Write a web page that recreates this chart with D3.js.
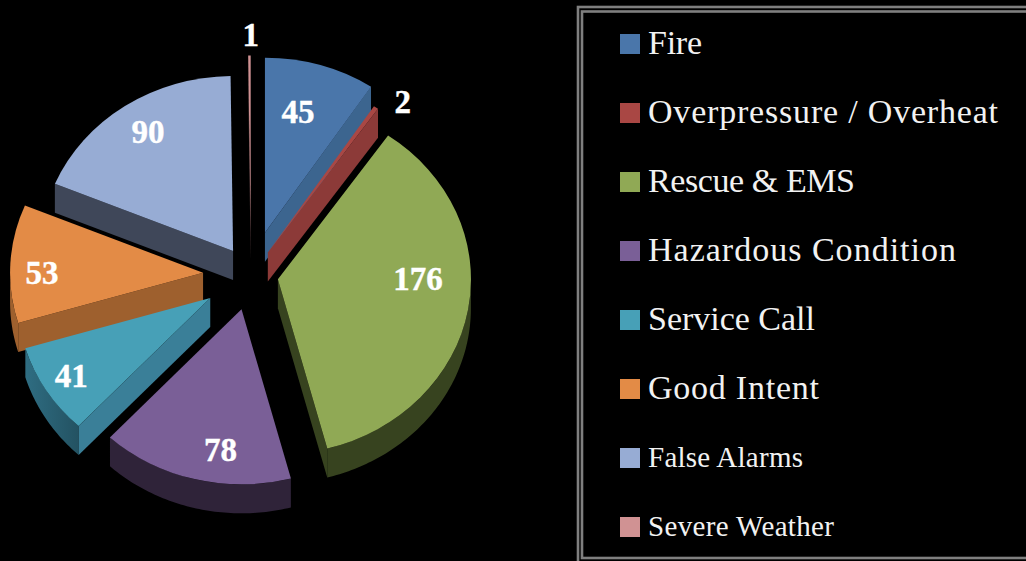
<!DOCTYPE html>
<html><head><meta charset="utf-8">
<script src="https://cdn.jsdelivr.net/npm/d3@7/dist/d3.min.js"></script>
<style>html,body{margin:0;padding:0;background:#000;overflow:hidden}svg{display:block}</style>
</head><body><svg id="c" width="1026" height="561"></svg>
<script>
const categories = ["Fire","Overpressure / Overheat","Rescue & EMS","Hazardous Condition","Service Call","Good Intent","False Alarms","Severe Weather"];
const values = [45,2,176,78,41,53,90,1];
const explosion = [48.6,30,27.3,39,48,48,32,49];
const topColors = ["#4a76aa","#a94744","#90a955","#7a5f97","#47a0b7","#e38b46","#97acd4","#d09293"];
const edgeColors = ["#3c658f","#8c3a38","#37431f","#2f2339","#3a7f98","#9e602e","#3f4759","#5a3f40"];
const rimColors = ["#3c658f","#8c3a38","#37431f","#2f2339","#2f6d82","#9e602e","#3f4759","#5a3f40"];
const legendSizes = [34,34,34,34,34,34,29,29];
const legendWidths = [54,350,207,308,167,171,155,186];
const labelDx = [33,135,140,-21,-139,-161,-85,0];
const labelDy = [-121,-151,-1,140,77,0,-120,-196];

const CX=251, CY=275, RX=193, RY=175, DEPTH=29;
const svg = d3.select("#c");
const pie = d3.pie().value(d=>d).sort(null);
const slices = pie(values).map((s,i)=>{
  const mid=(s.startAngle+s.endAngle)/2, e=explosion[i];
  return {...s,i,ax:CX+Math.sin(mid)*e,ay:CY-Math.cos(mid)*e*RY/RX};
});
const pt=(s,t)=>[s.ax+RX*Math.sin(t), s.ay-RY*Math.cos(t)];
const arcGen=d3.arc().innerRadius(0).outerRadius(1);
const lineGen=d3.line();
const rim=d3.area().x(d=>d[0]).y0(d=>d[1]).y1(d=>d[1]+DEPTH);
const defs=svg.append("defs");
const order=[7,6,0,1,5,2,4,3];
const g=svg.append("g");
const PI=Math.PI;
order.forEach(i=>{
  const s=slices[i], a0=s.startAngle, a1=s.endAngle;
  const sg=g.append("g");
  const lo=Math.max(a0,PI/2), hi=Math.min(a1,3*PI/2);
  if(hi>lo){
    const n=Math.max(8,Math.ceil((hi-lo)*60));
    const pts=d3.range(n+1).map(k=>pt(s,lo+(hi-lo)*k/n));
    const id="rim"+i, grad=defs.append("linearGradient").attr("id",id).attr("gradientUnits","userSpaceOnUse")
      .attr("x1",pts[0][0]).attr("y1",0).attr("x2",pts[n][0]).attr("y2",0);
    const c=d3.color(rimColors[i]);
    grad.append("stop").attr("offset",0).attr("stop-color",i===4?c.darker(0.8):c);
    grad.append("stop").attr("offset",1).attr("stop-color",c);
    sg.append("path").attr("d",rim(pts)).attr("fill",`url(#${id})`);
  }
  const edge=t=>{const p=pt(s,t);return [[s.ax,s.ay],p,[p[0],p[1]+DEPTH],[s.ax,s.ay+DEPTH]];};
  if(a0>PI && a0<2*PI) sg.append("path").attr("d",lineGen(edge(a0))+"Z").attr("fill",edgeColors[i]);
  if(a1>0 && a1<PI) sg.append("path").attr("d",lineGen(edge(a1))+"Z").attr("fill",edgeColors[i]);
  sg.append("path").attr("d",arcGen({startAngle:a0,endAngle:a1}))
    .attr("transform",`translate(${s.ax},${s.ay}) scale(${RX},${RY})`).attr("fill",topColors[i]);
});
g.selectAll("text.v").data(slices).join("text").attr("class","v")
  .attr("x",d=>d.ax+labelDx[d.i]).attr("y",d=>d.ay+labelDy[d.i]).attr("dy","0.35em")
  .attr("text-anchor","middle").attr("fill","#fff").attr("stroke","#fff").attr("stroke-width",0.4)
  .attr("font-family","'Liberation Serif',serif").attr("font-weight","bold").attr("font-size",33)
  .text(d=>values[d.i]);

// legend
const lg=svg.append("g");
lg.append("rect").attr("x",578).attr("y",7).attr("width",470).attr("height",570).attr("fill","none").attr("stroke","#7f7f7f").attr("stroke-width",2.6);
lg.append("rect").attr("x",582).attr("y",11.5).attr("width",470).attr("height",546.5).attr("fill","none").attr("stroke","#7f7f7f").attr("stroke-width",2.6);
const yL=d3.scalePoint().domain(categories).range([44,527]);
const row=lg.selectAll("g.r").data(categories).join("g").attr("class","r").attr("transform",d=>`translate(0,${yL(d)})`);
row.append("rect").attr("x",620).attr("y",-10).attr("width",20).attr("height",20).attr("fill",(d,i)=>topColors[i]);
row.append("text").attr("x",648).attr("y",(d,i)=>i>5?0:-1).attr("dy","0.32em").attr("fill","#f2f2f2")
  .attr("font-family","'Liberation Serif',serif")
  .attr("font-size",(d,i)=>legendSizes[i]).attr("textLength",(d,i)=>legendWidths[i]).attr("lengthAdjust","spacing").text(d=>d);
</script></body></html>
